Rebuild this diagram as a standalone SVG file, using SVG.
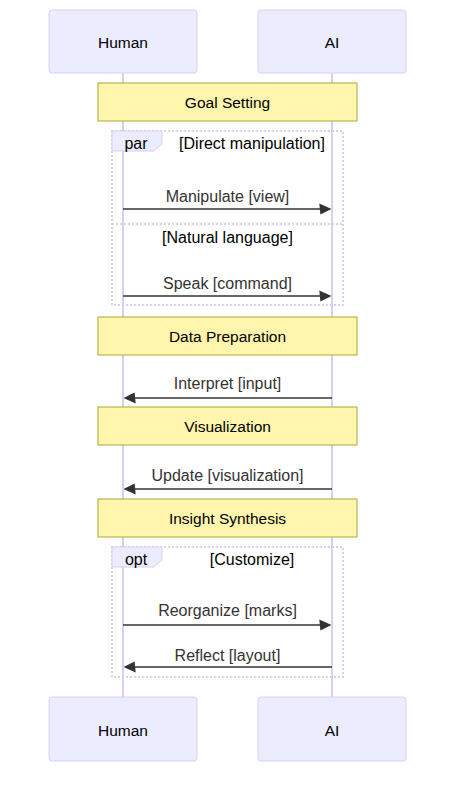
<svg xmlns="http://www.w3.org/2000/svg" width="463" height="786" viewBox="0 0 463 786">
  <style>
    .actor { fill: #ECECFF; stroke: #DACEF3; stroke-width: 1; }
    .actor-text { font-family: "Liberation Sans", Arial, sans-serif; font-size: 15.5px; fill: #000; text-anchor: middle; dominant-baseline: central; }
    .lifeline { stroke: #DACEF3; stroke-width: 2; fill: none; }
    .note { fill: #FFF5AD; stroke: #AAAA33; stroke-width: 1; }
    .note-text { font-family: "Liberation Sans", Arial, sans-serif; font-size: 15.5px; fill: #000; text-anchor: middle; dominant-baseline: central; }
    .msg { stroke: #333; stroke-width: 1.5; fill: none; }
    .msg-text { font-family: "Liberation Sans", Arial, sans-serif; font-size: 16px; fill: #333; text-anchor: middle; dominant-baseline: central; }
    .loop { fill: none; stroke: #DACEF3; stroke-width: 2; stroke-dasharray: 2 2; }
    .loop-label { fill: #ECECFF; stroke: #DACEF3; stroke-width: 1; }
    .loop-text { font-family: "Liberation Sans", Arial, sans-serif; font-size: 16px; fill: #000; text-anchor: middle; dominant-baseline: central; }
  </style>
  <defs>
    <marker id="arrowhead" viewBox="-1 0 11 10" refX="7.9" refY="5" markerUnits="userSpaceOnUse" markerWidth="12" markerHeight="12" orient="auto">
      <path d="M -1 0 L 10 5 L 0 10 z" fill="#333"/>
    </marker>
  </defs>

  <!-- lifelines -->
  <g id="lifelines">
    <line class="lifeline" x1="123" y1="73" x2="123" y2="697"/>
    <line class="lifeline" x1="332" y1="73" x2="332" y2="697"/>
  </g>

  <!-- participants, top row -->
  <g id="actor-human-top">
    <rect class="actor" x="49" y="10" width="148" height="63" rx="3"/>
    <text class="actor-text" x="123" y="42">Human</text>
  </g>
  <g id="actor-ai-top">
    <rect class="actor" x="258" y="10" width="148" height="63" rx="3"/>
    <text class="actor-text" x="332" y="42">AI</text>
  </g>

  <!-- notes -->
  <g id="note-goal">
    <rect class="note" x="98" y="83" width="259" height="38"/>
    <text class="note-text" x="227.5" y="102">Goal Setting</text>
  </g>
  <g id="note-data">
    <rect class="note" x="98" y="317" width="259" height="38"/>
    <text class="note-text" x="227.5" y="336">Data Preparation</text>
  </g>
  <g id="note-vis">
    <rect class="note" x="98" y="407" width="259" height="38"/>
    <text class="note-text" x="227.5" y="426">Visualization</text>
  </g>
  <g id="note-insight">
    <rect class="note" x="98" y="499" width="259" height="38"/>
    <text class="note-text" x="227.5" y="518">Insight Synthesis</text>
  </g>

  <!-- par block -->
  <g id="block-par">
    <rect class="loop" x="112" y="131" width="231" height="174"/>
    <line class="loop" x1="112" y1="224" x2="343" y2="224"/>
    <polygon class="loop-label" points="112,131 162,131 162,144 153.6,151 112,151"/>
    <text class="loop-text" x="136" y="143">par</text>
    <text class="loop-text" x="252" y="143">[Direct manipulation]</text>
    <text class="loop-text" x="227.5" y="237">[Natural language]</text>
  </g>

  <!-- opt block -->
  <g id="block-opt">
    <rect class="loop" x="112" y="547" width="231" height="130"/>
    <polygon class="loop-label" points="112,547 162,547 162,560 153.6,567 112,567"/>
    <text class="loop-text" x="136" y="559">opt</text>
    <text class="loop-text" x="252" y="559">[Customize]</text>
  </g>

  <!-- messages -->
  <g id="messages">
    <line class="msg" x1="123" y1="209" x2="329" y2="209" marker-end="url(#arrowhead)"/>
    <text class="msg-text" x="227.5" y="196">Manipulate [view]</text>

    <line class="msg" x1="123" y1="296" x2="329" y2="296" marker-end="url(#arrowhead)"/>
    <text class="msg-text" x="227.5" y="283">Speak [command]</text>

    <line class="msg" x1="332" y1="398" x2="126" y2="398" marker-end="url(#arrowhead)"/>
    <text class="msg-text" x="227.5" y="383">Interpret [input]</text>

    <line class="msg" x1="332" y1="489" x2="126" y2="489" marker-end="url(#arrowhead)"/>
    <text class="msg-text" x="227.5" y="475">Update [visualization]</text>

    <line class="msg" x1="123" y1="625" x2="329" y2="625" marker-end="url(#arrowhead)"/>
    <text class="msg-text" x="227.5" y="610">Reorganize [marks]</text>

    <line class="msg" x1="332" y1="667" x2="126" y2="667" marker-end="url(#arrowhead)"/>
    <text class="msg-text" x="227.5" y="655">Reflect [layout]</text>
  </g>

  <!-- participants, bottom row -->
  <g id="actor-human-bottom">
    <rect class="actor" x="49" y="697" width="148" height="64" rx="3"/>
    <text class="actor-text" x="123" y="730">Human</text>
  </g>
  <g id="actor-ai-bottom">
    <rect class="actor" x="258" y="697" width="148" height="64" rx="3"/>
    <text class="actor-text" x="332" y="730">AI</text>
  </g>
</svg>
